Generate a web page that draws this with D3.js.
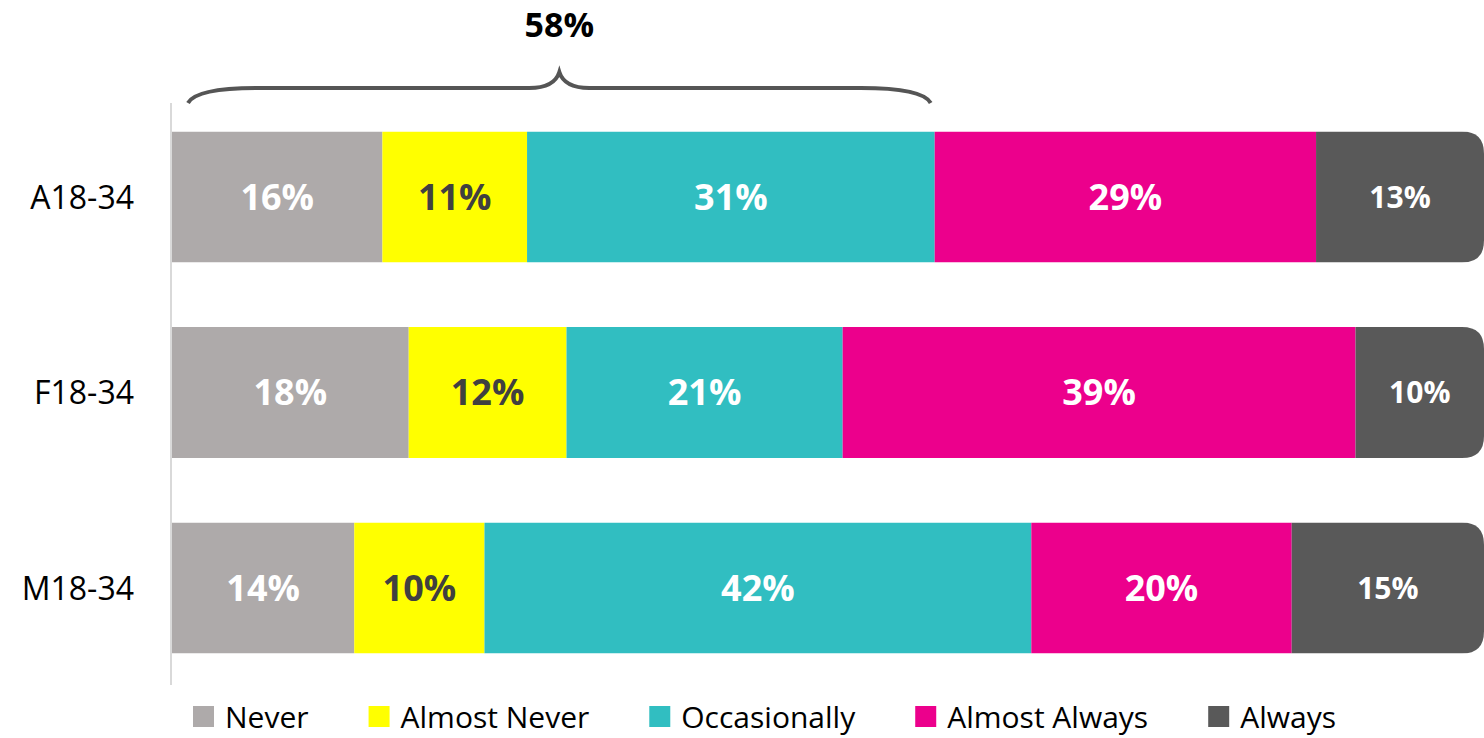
<!DOCTYPE html>
<html>
<head>
<meta charset="utf-8">
<script src="https://cdn.jsdelivr.net/npm/d3@7"></script>
<style>
  body { margin: 0; background: #fff; }
  text { font-family: 'Open Sans', sans-serif; }
</style>
</head>
<body>
<div id="chart"></div>
<script>
'use strict';

const categories = ['A18-34', 'F18-34', 'M18-34'];
const series = ['Never', 'Almost Never', 'Occasionally', 'Almost Always', 'Always'];
const never         = [16, 18, 14];
const almostNever   = [11, 12, 10];
const occasionally  = [31, 21, 42];
const almostAlways  = [29, 39, 20];
const always        = [13, 10, 15];
const colors = ['#aeaaaa', '#ffff00', '#31bec1', '#ec008c', '#595959'];
const braceValue = 58;
const braceLabel = '58%';

const W = 1484, H = 738;
const values = [never, almostNever, occasionally, almostAlways, always];

const svg = d3.select('#chart').append('svg')
  .attr('width', W).attr('height', H);

// 100% stacked: each row is scaled to its own total
const x = d3.scaleLinear().domain([0, 100]).range([172, 1487]);
const y = d3.scaleBand().domain(categories).range([67, 718]).padding(0.33);
const right = Math.min(x(100), W);
const r = 22;

const rows = categories.map((c, i) => {
  const total = d3.sum(values, v => v[i]);
  let acc = 0;
  return series.map((s, j) => {
    const v = values[j][i];
    const d = {cat: c, idx: j, series: s, v: v,
               x0: acc / total * 100, x1: (acc + v) / total * 100};
    acc += v;
    return d;
  });
});

const defs = svg.append('defs');
categories.forEach((c, i) => {
  const y0 = y(c), h = y.bandwidth(), xl = x(0);
  defs.append('clipPath').attr('id', 'clip' + i)
    .append('path')
    .attr('d', `M${xl},${y0} L${right - r},${y0} Q${right},${y0} ${right},${y0 + r}` +
               ` L${right},${y0 + h - r} Q${right},${y0 + h} ${right - r},${y0 + h} L${xl},${y0 + h} Z`);
});

// axis line
svg.append('line')
  .attr('x1', 171).attr('x2', 171)
  .attr('y1', 103).attr('y2', 685)
  .style('stroke', '#d9d9d9').style('stroke-width', 2);

const row = svg.selectAll('g.row')
  .data(rows)
  .enter().append('g')
  .attr('class', 'row')
  .attr('clip-path', (d, i) => `url(#clip${i})`);

row.selectAll('rect')
  .data(d => d)
  .enter().append('rect')
  .attr('x', d => x(d.x0))
  .attr('y', d => y(d.cat))
  .attr('width', d => x(d.x1) - x(d.x0))
  .attr('height', y.bandwidth())
  .style('fill', d => colors[d.idx]);

row.selectAll('text')
  .data(d => d)
  .enter().append('text')
  .attr('x', d => (x(d.x0) + Math.min(x(d.x1), right)) / 2)
  .attr('y', d => y(d.cat) + y.bandwidth() / 2)
  .attr('dy', '0.36em')
  .attr('text-anchor', 'middle')
  .style('font-weight', 'bold')
  .style('font-size', d => d.idx === 4 ? '30px' : '36px')
  .style('fill', d => d.idx === 1 ? '#404040' : '#ffffff')
  .text(d => d.v + '%');

// category labels
svg.selectAll('text.cat')
  .data(categories)
  .enter().append('text')
  .attr('class', 'cat')
  .attr('x', 134)
  .attr('y', d => y(d) + y.bandwidth() / 2)
  .attr('dy', '0.36em')
  .attr('text-anchor', 'end')
  .style('font-size', '32px')
  .style('fill', '#000')
  .text(d => d);

// brace over first 58%
const bx0 = x(0) + 16, bx1 = x(braceValue) - 4, bm = (bx0 + bx1) / 2;
const by = 103, bh = 88, bt = 72;
svg.append('path')
  .attr('d', `M${bx0},${by} Q${bx0 + 8},${bh} ${bx0 + 70},${bh} L${bm - 30},${bh}` +
             ` Q${bm - 5},${bh} ${bm},${bt} Q${bm + 5},${bh} ${bm + 30},${bh}` +
             ` L${bx1 - 70},${bh} Q${bx1 - 8},${bh} ${bx1},${by}`)
  .style('fill', 'none')
  .style('stroke', '#555555')
  .style('stroke-width', 4);

svg.append('text')
  .attr('x', bm).attr('y', 37)
  .attr('text-anchor', 'middle')
  .style('font-weight', 'bold')
  .style('font-size', '34px')
  .style('fill', '#000')
  .text(braceLabel);

// legend, spread between 193 and 1336
const legend = svg.append('g').attr('transform', 'translate(193,717)');
const items = series.map((s, i) => {
  const g = legend.append('g');
  g.append('rect')
    .attr('x', 0).attr('y', -11)
    .attr('width', 21).attr('height', 21)
    .style('fill', colors[i]);
  const t = g.append('text')
    .attr('x', 32).attr('y', 0)
    .attr('dy', '0.36em')
    .style('font-size', '30px')
    .style('fill', '#000')
    .text(s);
  return {g: g, w: 32 + t.node().getComputedTextLength()};
});
const gap = (1336 - 193 - d3.sum(items, d => d.w)) / (items.length - 1);
let lx = 0;
items.forEach(it => {
  it.g.attr('transform', `translate(${lx},0)`);
  lx += it.w + gap;
});
</script>
</body>
</html>
